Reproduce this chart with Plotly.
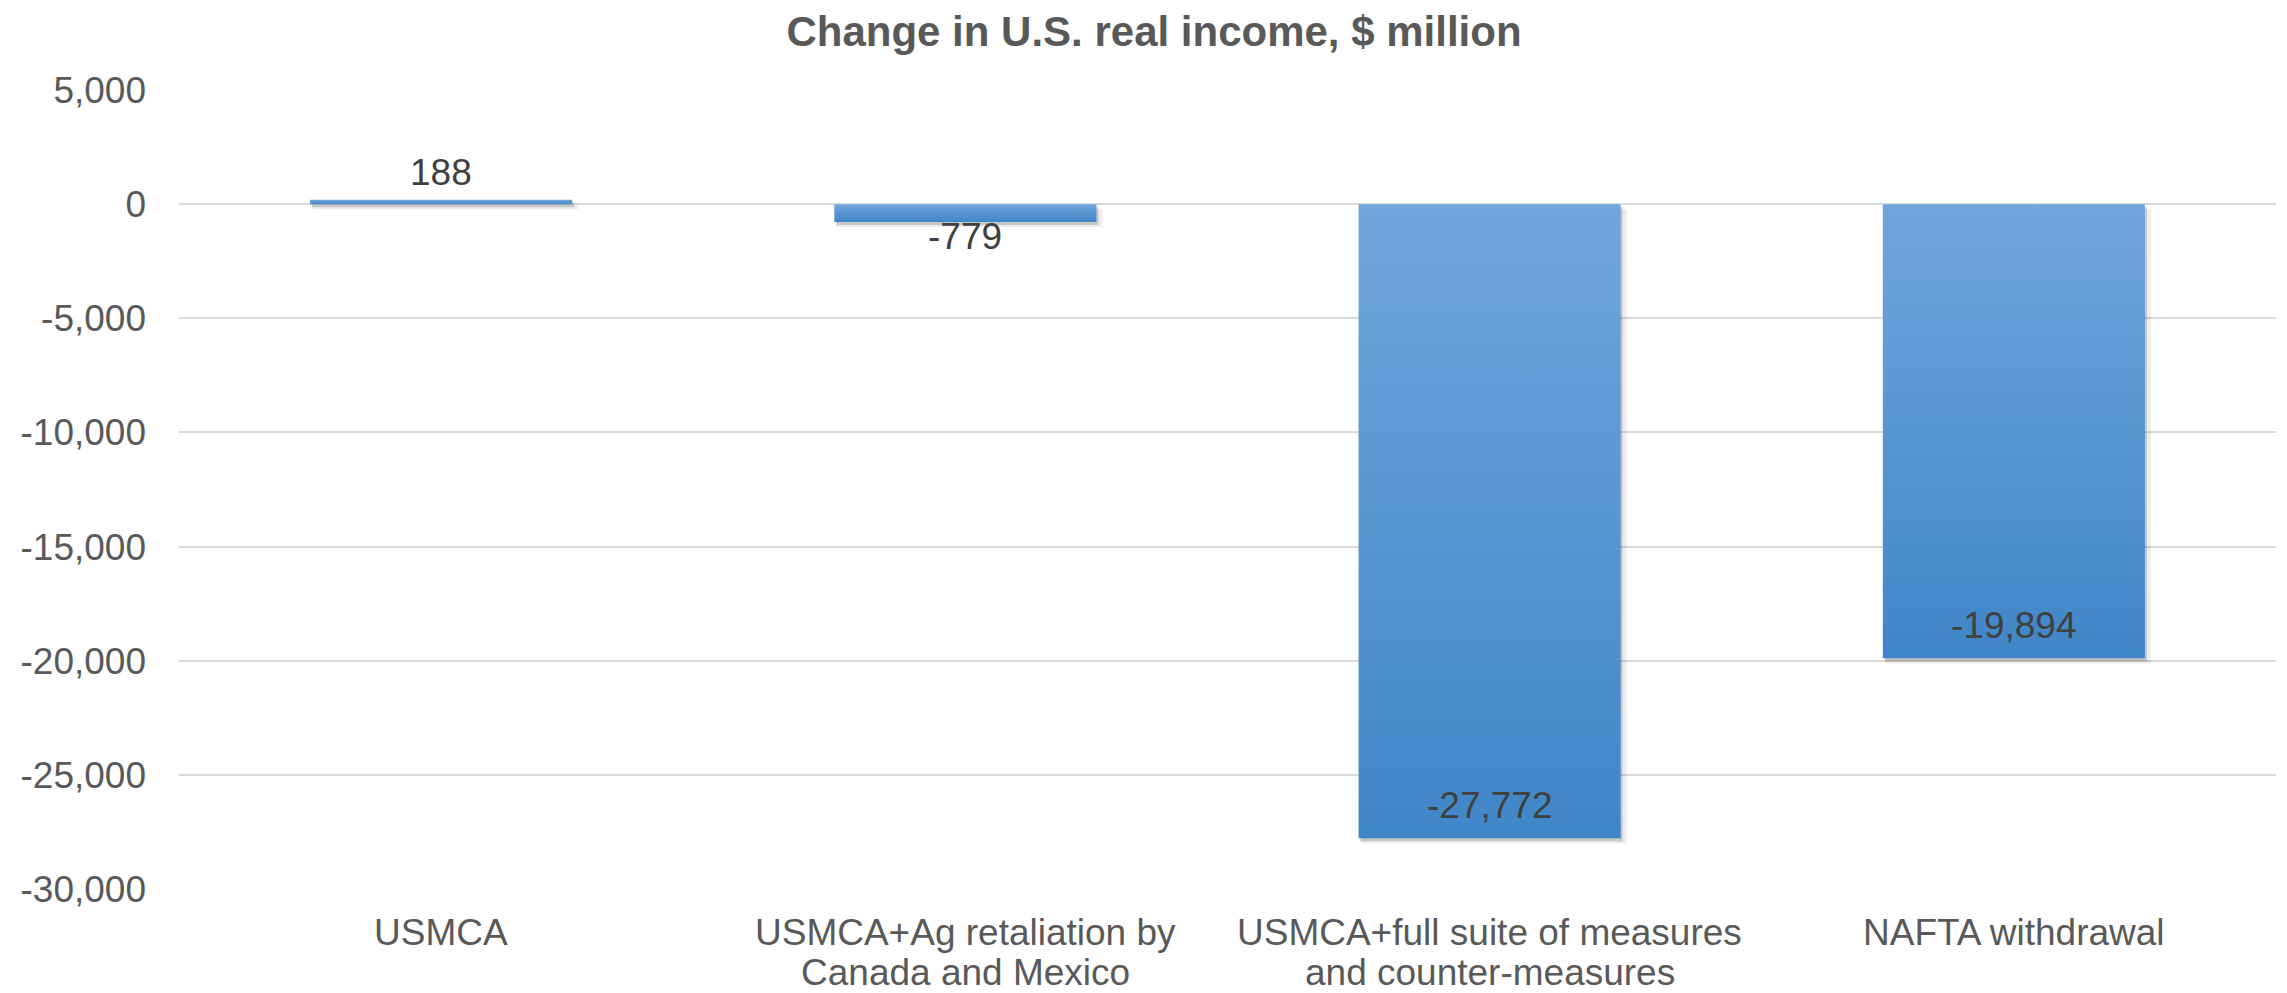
import plotly.graph_objects as go

# ---- data ----
categories = [
    "USMCA",
    "USMCA+Ag retaliation by<br>Canada and Mexico",
    "USMCA+full suite of measures<br>and counter-measures",
    "NAFTA withdrawal",
]
values = [188, -779, -27772, -19894]
labels = ["188", "-779", "-27,772", "-19,894"]
y_ticks = [5000, 0, -5000, -10000, -15000, -20000, -25000, -30000]
y_tick_labels = ["5,000", "0", "-5,000", "-10,000", "-15,000", "-20,000", "-25,000", "-30,000"]
title_text = "Change in U.S. real income, $ million"

# ---- style ----
OFF = 8  # page body margin in the browser
W, H = 2287 - OFF, 993 - OFF
ML, MR, MT, MB = 179 - OFF, 11, 90 - OFF, 104
BAR_HALF = 0.25
FONT = "Liberation Sans, Arial, sans-serif"
TXT = "#595959"
LBL = "#404040"
LIGHT, DARK = "#71a6dc", "#3f86c8"
label_shift = [27, -15, 33, 33]  # px offsets of data labels from bar end
CAT_FIRST, CAT_STEP = 43, 40     # px below plot bottom for category label lines

yr = (-30000, 5000)
px_per_x = (W - ML - MR) / 4.0
px_per_y = (H - MT - MB) / (yr[1] - yr[0])

fig = go.Figure()

xs = list(range(len(categories)))

# soft drop shadows (same rectangles, shifted down-right)
shadow_layers = [(4, 5, 2, "rgba(0,0,0,0.07)"), (2, 3, 0, "rgba(0,0,0,0.16)")]
for dxp, dyp, grow, col in shadow_layers:
    dx = dxp / px_per_x
    dy = dyp / px_per_y
    g = grow / px_per_x
    for x, v in zip(xs, values):
        x0, x1 = x - BAR_HALF + dx - g, x + BAR_HALF + dx + g
        y0, y1 = 0 - dy, v - dy
        fig.add_trace(go.Scatter(
            x=[x0, x1, x1, x0, x0], y=[y0, y0, y1, y1, y0],
            mode="lines", line=dict(width=0), fill="toself", fillcolor=col,
            hoverinfo="skip", showlegend=False))

# bars with vertical gradient (light top, dark bottom)
for x, v in zip(xs, values):
    x0, x1 = x - BAR_HALF, x + BAR_HALF
    lo, hi = min(0, v), max(0, v)
    fig.add_trace(go.Scatter(
        x=[x0, x1, x1, x0, x0], y=[0, 0, v, v, 0],
        mode="lines", line=dict(width=0), fill="toself",
        fillgradient=dict(type="vertical", colorscale=[[0, DARK], [1, LIGHT]],
                          start=lo, stop=hi),
        hoverinfo="skip", showlegend=False))

# data labels
for x, v, t, s in zip(xs, values, labels, label_shift):
    fig.add_annotation(x=x, y=v, text=t, showarrow=False, xanchor="center",
                       yanchor="middle", yshift=s,
                       font=dict(family=FONT, size=37, color=LBL))

# category labels (one text per line, tight Excel-like line spacing)
for x, cat in zip(xs, categories):
    for k, line in enumerate(cat.split("<br>")):
        fig.add_annotation(x=x, xref="x", y=0, yref="paper", text=line,
                           showarrow=False, xanchor="center", yanchor="middle",
                           yshift=-(CAT_FIRST + k * CAT_STEP),
                           font=dict(family=FONT, size=37, color=TXT))

fig.update_layout(
    width=W, height=H,
    margin=dict(l=ML, r=MR, t=MT, b=MB, autoexpand=False),
    paper_bgcolor="white", plot_bgcolor="white",
    title=dict(text="<b>" + title_text + "</b>", x=(1154 - OFF) / W, xanchor="center",
               y=1 - (31 - OFF) / H, yanchor="middle", yref="container",
               font=dict(family=FONT, size=42, color=TXT)),
    showlegend=False,
)
fig.update_xaxes(
    range=[-0.5, 3.5], tickvals=xs, ticktext=categories, automargin=False,
    showticklabels=False,
    showgrid=False, zeroline=False, showline=False, ticks="",
)
fig.update_yaxes(
    range=list(yr), tickvals=y_ticks, ticktext=y_tick_labels, automargin=False,
    showgrid=True, gridcolor="#d9d9d9", gridwidth=2,
    zeroline=False, showline=False, ticks="",
    tickfont=dict(family=FONT, size=37, color=TXT), ticklabelstandoff=32,
)

fig.write_html("out.html")
